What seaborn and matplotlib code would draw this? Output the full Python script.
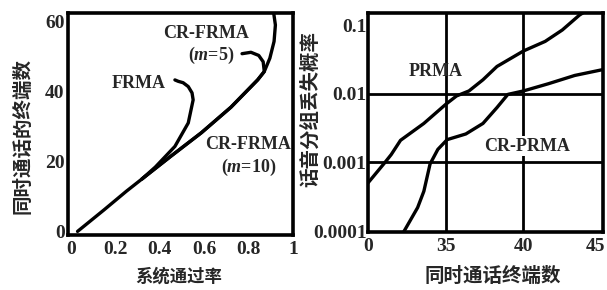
import numpy as np
import seaborn as sns
import matplotlib
matplotlib.use("Agg")
from matplotlib import pyplot as plt
from matplotlib.ticker import FixedLocator, NullLocator
import matplotlib.transforms as mtransforms

# left panel: throughput vs number of simultaneous calls
shared_x = [0.03, 0.15, 0.25, 0.32]
shared_y = [0.0, 6.2, 11.5, 15.0]
m10_x = [0.45, 0.587, 0.72, 0.84, 0.87, 0.895, 0.914, 0.92, 0.911]
m10_y = [21.5, 28.2, 35.5, 43.3, 45.7, 49.5, 54.3, 59.0, 63.0]
m5_x = [0.45, 0.587, 0.72, 0.84, 0.87, 0.865, 0.845, 0.81, 0.77]
m5_y = [21.5, 28.2, 35.5, 43.3, 45.7, 48.5, 50.3, 51.2, 50.8]
frma_x = [0.38, 0.468, 0.528, 0.55, 0.545, 0.528, 0.505, 0.483, 0.468]
frma_y = [18.4, 24.3, 31.0, 37.6, 39.6, 41.4, 42.5, 42.9, 43.3]
left_xticks = [0, 0.2, 0.4, 0.6, 0.8, 1.0]
left_xlabels = ["0", "0.2", "0.4", "0.6", "0.8", "1"]
left_yticks = [0, 20, 40, 60]

# right panel: packet loss probability vs terminals (axis starts at a break, labelled 0)
prma_x = [30.0, 31.1, 31.5, 32.1, 33.6, 35.0, 35.7, 36.5, 37.4, 38.3, 40.0, 41.4, 42.5, 43.6, 44.0]
prma_y = [5.0e-4, 1.0e-3, 1.3e-3, 2.1e-3, 3.7e-3, 7.0e-3, 9.3e-3, 0.011, 0.016, 0.025,
          0.042, 0.058, 0.085, 0.14, 0.16]
crprma_x = [32.3, 33.2, 33.6, 34.0, 34.5, 35.1, 36.3, 37.4, 38.3, 39.0, 40.0, 41.6, 43.3, 45.1]
crprma_y = [9.7e-5, 2.2e-4, 3.8e-4, 9.5e-4, 1.55e-3, 2.15e-3, 2.6e-3, 3.7e-3, 6.3e-3,
            9.8e-3, 0.011, 0.014, 0.0185, 0.0225]
right_xticks = [30, 35, 40, 45]
right_xlabels = ["0", "35", "40", "45"]
right_yticks = [1e-4, 1e-3, 1e-2, 1e-1]
right_ylabels = ["0.0001", "0.001", "0.01", "0.1"]

sns.set_style("white")
plt.rcParams["font.family"] = ["Liberation Serif", "Noto Sans CJK SC"]
plt.rcParams["mathtext.fontset"] = "custom"
plt.rcParams["mathtext.it"] = "Liberation Serif:italic:bold"
plt.rcParams["mathtext.rm"] = "Liberation Serif:bold"

num_font = dict(family="Liberation Serif", weight="bold", size=14)
lab_font = dict(family="Liberation Serif", weight="bold", size=13)
lw = 2.4
line_kw = dict(sort=False, estimator=None, color="black", lw=lw,
               solid_joinstyle="round", solid_capstyle="round")

fig = plt.figure(figsize=(6.07, 2.90), dpi=100)
ax1 = fig.add_axes([0.112, 0.19, 0.371, 0.766])
ax2 = fig.add_axes([0.606, 0.20, 0.387, 0.755])

# left
sns.lineplot(x=shared_x + m10_x, y=shared_y + m10_y, ax=ax1, **line_kw)
sns.lineplot(x=[shared_x[-1]] + m5_x, y=[shared_y[-1]] + m5_y, ax=ax1, **line_kw)
sns.lineplot(x=[shared_x[-1]] + frma_x, y=[shared_y[-1]] + frma_y, ax=ax1, **line_kw)
ax1.set_xlim(-0.013, 1.0)
ax1.set_ylim(-1, 62.5)
ax1.xaxis.set_major_locator(FixedLocator(left_xticks))
ax1.set_xticklabels(left_xlabels, fontdict=num_font)
ax1.yaxis.set_major_locator(FixedLocator(left_yticks))
ax1.set_yticklabels([str(v) for v in left_yticks], fontdict=num_font)
ax1.tick_params(axis="both", length=3, width=1.2, direction="inout", pad=1)
ax1.tick_params(axis="x", pad=3)
ax1.set_xlabel("")
ax1.set_ylabel("")

ax1.text(0.305, 42.4, "FRMA", ha="center", va="center", **lab_font)
ax1.text(0.609, 56.7, "CR-FRMA", ha="center", va="center", **lab_font)
ax1.text(0.631, 50.3, r"($\mathit{m}$=5)", ha="center", va="center", **lab_font)
ax1.text(0.795, 24.8, "CR-FRMA", ha="center", va="center", **lab_font)
ax1.text(0.802, 18.4, r"($\mathit{m}$=10)", ha="center", va="center", **lab_font)

# right
sns.lineplot(x=prma_x, y=prma_y, ax=ax2, **line_kw)
sns.lineplot(x=crprma_x, y=crprma_y, ax=ax2, **line_kw)
ax2.set_yscale("log")
ax2.set_xlim(30, 45.1)
ax2.set_ylim(9.7e-5, 0.15)
ax2.xaxis.set_major_locator(FixedLocator(right_xticks))
ax2.set_xticklabels(right_xlabels, fontdict=num_font)
ax2.yaxis.set_major_locator(FixedLocator(right_yticks))
ax2.yaxis.set_minor_locator(NullLocator())
ax2.set_yticklabels(right_ylabels, fontdict=num_font)
ax2.tick_params(axis="both", length=0, pad=1)
ax2.tick_params(axis="x", pad=4)
for v in [35, 40]:
    ax2.axvline(v, color="black", lw=2.0, zorder=0)
for v in [1e-3, 1e-2]:
    ax2.axhline(v, color="black", lw=2.0, zorder=0)
ax2.set_xlabel("")
ax2.set_ylabel("")

# last x label sits at the figure edge in the original, nudge it left
last = ax2.get_xticklabels()[-1]
last.set_transform(last.get_transform() +
                   mtransforms.ScaledTranslation(-6 / 100, 0, fig.dpi_scale_trans))

ax2.text(34.39, 0.0213, "PRMA", ha="center", va="center", **lab_font)
ax2.text(40.26, 1.73e-3, "CR-PRMA", ha="center", va="center", zorder=5,
         bbox=dict(facecolor="white", edgecolor="none", pad=1), **lab_font)

for ax in (ax1, ax2):
    for s in ax.spines.values():
        s.set_visible(True)
        s.set_linewidth(2.6)
        s.set_color("black")

# axis titles placed to match the scanned layout
cjk = dict(family="Noto Sans CJK SC", weight="bold")
fig.text(23 / 607, 1 - 136 / 290, "同时通话的终端数", rotation=90, ha="center", va="center",
         size=14, **cjk)
fig.text(179 / 607, 1 - 277 / 290, "系统通过率", ha="center", va="center",
         size=12.5, **cjk)
fig.text(310 / 607, 1 - 109 / 290, "话音分组丢失概率", rotation=90, ha="center", va="center",
         size=14, **cjk)
fig.text(493 / 607, 1 - 276 / 290, "同时通话终端数", ha="center", va="center",
         size=14, **cjk)

fig.savefig("out.png", dpi=100)
